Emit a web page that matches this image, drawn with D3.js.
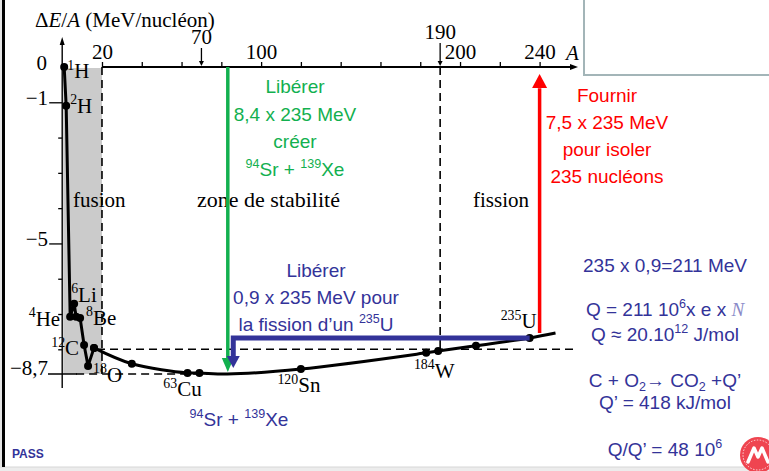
<!DOCTYPE html>
<html><head><meta charset="utf-8">
<script src="https://cdn.jsdelivr.net/npm/d3@7"></script>
<style>body{margin:0;background:#fff}svg{display:block}</style>
</head><body><svg id="c" width="769" height="471"></svg>
<script>
// ---------- data ----------
const lightA = [1, 2, 4, 6, 7, 9, 11, 13, 16];
const lightE = [0, -1.1, -7.08, -6.71, -7.08, -7.11, -7.88, -8.47, -7.96];
const heavyA = [16, 35, 63, 69, 83, 120, 183, 189, 208, 235, 248];
const heavyE = [-7.96, -8.41, -8.67, -8.67, -8.70, -8.56, -8.10, -8.05, -7.90, -7.68, -7.54];
const heavyDot = [1, 1, 1, 1, 0, 1, 1, 1, 1, 1, 0];
const xTicks = [20, 40, 60, 80, 100, 120, 140, 160, 180, 200, 220, 240];
const xTickLabels = [20, 100, 200, 240];
const yTicks = [-1, -2, -3, -4, -5, -6, -7, -8];
const yTickLabels = [0, -1, -5];
const markA = [70, 190];
const nuclideText = ["^{1}H", "^{2}H", "^{4}He", "^{6}Li", "^{8}Be", "^{12}C", "^{18}O", "^{63}Cu", "^{120}Sn", "^{184}W", "^{235}U"];
const nuclideA    = [1, 2, 4, 6, 9, 11, 13, 63, 120, 183, 235];
const nuclideE    = [0, -1.1, -7.08, -6.71, -7.11, -7.88, -8.47, -8.67, -8.56, -8.10, -7.68];
const zoneText = ["fusion", "zone de stabilité", "fission"];
const greenText = ["Libérer", "8,4 x 235 MeV", "créer", "^{94}Sr + ^{139}Xe"];
const blueText = ["Libérer", "0,9 x 235 MeV pour", "la fission d’un ^{235}U"];
const redText = ["Fournir", "7,5 x 235 MeV", "pour isoler", "235 nucléons"];
const rightText = ["235 x 0,9=211 MeV", "Q = 211 10^{6}x e x ~N", "Q ≈ 20.10^{12} J/mol", "C + O_{2}→ CO_{2} +Q’", "Q’ = 418 kJ/mol", "Q/Q’ = 48 10^{6}"];
const bottomText = "^{94}Sr + ^{139}Xe";
const stabE = -8.7, limitE = -8.0, fusionA = 20, fissionA = 190, uraniumA = 235, heliumA = 240, sepA = 83;

// ---------- setup ----------
const svg = d3.select("#c");
const SERIF = "'Liberation Serif','Times New Roman',serif";
const SANS = "'Liberation Sans',Arial,sans-serif";
const GREEN = "#12b04f", BLUE = "#333399", RED = "#ff0000";
const x = d3.scaleLinear().domain([0, 240]).range([62.2, 539.6]);
const y = d3.scaleLinear().domain([0, -8.7]).range([67, 374]);

function rich(g, px, py, str, size, opts = {}) {
  const t = g.append("text").attr("x", px).attr("y", py)
    .attr("font-size", size).attr("font-family", opts.font || SANS)
    .attr("fill", opts.fill || "#000").attr("text-anchor", opts.anchor || "start");
  const re = /(\^\{[^}]*\}|_\{[^}]*\}|~N)/g;
  const parts = str.split(re).filter(s => s !== "");
  let shift = 0;
  parts.forEach(p => {
    let kind = null, txt = p;
    if (p.startsWith("^{")) { kind = "sup"; txt = p.slice(2, -1); }
    else if (p.startsWith("_{")) { kind = "sub"; txt = p.slice(2, -1); }
    else if (p === "~N") { kind = "scr"; txt = "N"; }
    const target = kind === "sup" ? -0.4 * size : kind === "sub" ? 0.22 * size : 0;
    const ts = t.append("tspan").text(txt);
    if (target - shift !== 0) ts.attr("dy", target - shift);
    shift = target;
    if (kind === "sup" || kind === "sub") ts.attr("font-size", size * 0.66);
    if (kind === "scr") ts.attr("font-family", SERIF).attr("font-style", "italic").attr("fill", "#8a8ac8");
  });
  return t;
}
function head(g, tx, ty, dir, len, hw, color) {
  let pts;
  if (dir === "down") pts = [[tx, ty], [tx - hw, ty - len], [tx + hw, ty - len]];
  else if (dir === "up") pts = [[tx, ty], [tx - hw, ty + len], [tx + hw, ty + len]];
  else pts = [[tx, ty], [tx - len, ty - hw], [tx - len, ty + hw]];
  g.append("path").attr("d", d3.line()(pts) + "Z").attr("fill", color);
}

// ---------- frame ----------
svg.append("rect").attr("x", 0).attr("y", 0).attr("width", 769).attr("height", 471).attr("fill", "#fff");
svg.append("rect").attr("x", 0).attr("y", 467).attr("width", 769).attr("height", 4).attr("fill", "#ececec");
svg.append("line").attr("x1", 0).attr("x2", 769).attr("y1", 467).attr("y2", 467).attr("stroke", "#d6d6d6");
svg.append("rect").attr("x", 0).attr("y", 0).attr("width", 2).attr("height", 467).attr("fill", "#e4e4e4");
svg.append("rect").attr("x", 2).attr("y", 0).attr("width", 3).attr("height", 467).attr("fill", "#000");
svg.append("rect").attr("x", 584).attr("y", -4).attr("width", 200).attr("height", 79)
  .attr("fill", "none").attr("stroke", "#a3b5b8").attr("stroke-width", 2);

// ---------- shaded fusion zone ----------
svg.append("rect").attr("x", x(0) + 1).attr("y", y(0) + 1)
  .attr("width", x(fusionA) - x(0) - 1).attr("height", y(stabE) - y(0) - 1).attr("fill", "#cbcbcb");

// ---------- zone texts ----------
const zg = svg.append("g").attr("font-family", SERIF).attr("font-size", 21);
zg.append("text").attr("x", 73).attr("y", 207).text(zoneText[0]);
zg.append("text").attr("x", 197).attr("y", 207).attr("font-size", 22).text(zoneText[1]);
zg.append("text").attr("x", 473).attr("y", 207).text(zoneText[2]);

// ---------- dashed guides ----------
const dash = svg.append("g").attr("stroke", "#000").attr("stroke-width", 1.6).attr("stroke-dasharray", "8,5").attr("fill", "none");
dash.append("line").attr("x1", x(fusionA)).attr("x2", x(fusionA)).attr("y1", y(0)).attr("y2", y(stabE));
dash.append("line").attr("x1", x(fissionA)).attr("x2", x(fissionA)).attr("y1", y(0)).attr("y2", y(-8.05));
dash.append("line").attr("x1", x(17.5)).attr("x2", 574).attr("y1", y(limitE)).attr("y2", y(limitE));
dash.append("line").attr("x1", x(7)).attr("x2", x(sepA)).attr("y1", y(stabE)).attr("y2", y(stabE));

// ---------- x axis ----------
const gx = svg.append("g").attr("transform", `translate(0,${y(0)})`)
  .call(d3.axisTop(x).tickValues(xTicks).tickSize(5).tickPadding(3)
    .tickFormat(d => xTickLabels.includes(d) ? d : ""));
gx.select(".domain").remove();
gx.selectAll("line").attr("stroke-width", 1.3);
gx.selectAll("text").attr("font-family", SERIF).attr("font-size", 21);
svg.append("line").attr("x1", x(fusionA)).attr("x2", 572).attr("y1", y(0)).attr("y2", y(0))
  .attr("stroke", "#000").attr("stroke-width", 1.8);
head(svg, 578, y(0), "right", 8, 3, "#000");
svg.append("text").attr("x", 566).attr("y", 60).attr("font-family", SERIF).attr("font-style", "italic")
  .attr("font-size", 21).text("A");
markA.forEach((a, i) => {
  const top = i === 0 ? 48 : 43;
  svg.append("line").attr("x1", x(a)).attr("x2", x(a)).attr("y1", top).attr("y2", y(0) - 4)
    .attr("stroke", "#000").attr("stroke-width", 1.3);
  head(svg, x(a), y(0) - 1, "down", 5, 2.5, "#000");
  svg.append("text").attr("x", x(a)).attr("y", top - 4).attr("text-anchor", "middle")
    .attr("font-family", SERIF).attr("font-size", 21).text(a);
});

// ---------- y axis ----------
const gy = svg.append("g").attr("transform", `translate(${x(0)},0)`)
  .call(d3.axisLeft(y).tickValues(yTicks).tickSize(4).tickFormat(""));
gy.select(".domain").remove();
gy.selectAll(".tick line").attr("stroke-width", 1.3)
  .filter(d => yTickLabels.includes(d)).attr("x2", -13);
svg.append("line").attr("x1", x(0)).attr("x2", x(0)).attr("y1", 43).attr("y2", 388)
  .attr("stroke", "#000").attr("stroke-width", 1.4);
head(svg, x(0), 37, "up", 8, 2.5, "#000");
yTickLabels.forEach(v => {
  svg.append("text").attr("x", v === 0 ? 47 : 48).attr("y", y(v) + 3).attr("text-anchor", "end")
    .attr("font-family", SERIF).attr("font-size", 21).text(v === 0 ? "0" : "−" + Math.abs(v));
});
svg.append("text").attr("x", 48).attr("y", y(stabE) + 1).attr("text-anchor", "end")
  .attr("font-family", SERIF).attr("font-size", 21).text("−8,7");
svg.append("line").attr("x1", 48).attr("x2", 77).attr("y1", y(stabE)).attr("y2", y(stabE))
  .attr("stroke", "#000").attr("stroke-width", 1.5);
(function () {
  const t = svg.append("text").attr("x", 35).attr("y", 27).attr("font-family", SERIF).attr("font-size", 21);
  t.append("tspan").text("Δ");
  t.append("tspan").attr("font-style", "italic").text("E");
  t.append("tspan").text("/");
  t.append("tspan").attr("font-style", "italic").text("A");
  t.append("tspan").text(" (MeV/nucléon)");
})();

// ---------- curve ----------
const light = lightA.map((a, i) => [x(a), y(lightE[i])]);
const heavy = heavyA.map((a, i) => [x(a), y(heavyE[i])]);
svg.append("path").attr("d", d3.line().curve(d3.curveLinear)(light))
  .attr("fill", "none").attr("stroke", "#000").attr("stroke-width", 3).attr("stroke-linejoin", "round");
svg.append("path").attr("d", d3.line().curve(d3.curveCatmullRom.alpha(0.5))(heavy))
  .attr("fill", "none").attr("stroke", "#000").attr("stroke-width", 3);
svg.append("g").selectAll("circle").data(light.concat(heavy.filter((p, i) => heavyDot[i])))
  .join("circle").attr("cx", d => d[0]).attr("cy", d => d[1]).attr("r", 4).attr("fill", "#000");

// ---------- nuclide labels ----------
const labOff = [
  { dx: 3, dy: 11, a: "start" }, { dx: 4, dy: 7, a: "start" }, { dx: -10, dy: 9, a: "end" },
  { dx: -3, dy: -2, a: "start" }, { dx: 6, dy: 7, a: "start" }, { dx: -5, dy: 10, a: "end" },
  { dx: 5, dy: 16, a: "start" }, { dx: -5, dy: 23, a: "middle" }, { dx: -2, dy: 23, a: "middle" },
  { dx: 8, dy: 25, a: "middle" }, { dx: 7, dy: -10, a: "end" }
];
nuclideText.forEach((s, i) => {
  const o = labOff[i];
  rich(svg, x(nuclideA[i]) + o.dx, y(nuclideE[i]) + o.dy, s, 21, { font: SERIF, anchor: o.a });
});

// ---------- arrows ----------
svg.append("line").attr("x1", x(sepA) + 0.5).attr("x2", x(sepA) + 0.5).attr("y1", y(0)).attr("y2", y(-8.3))
  .attr("stroke", GREEN).attr("stroke-width", 3.5);
head(svg, x(sepA) + 0.5, y(-8.64), "down", 14, 6, GREEN);
const bx = x(86);
svg.append("path").attr("d", d3.line()([[x(uraniumA), y(-7.68)], [bx, y(-7.68)], [bx, y(-8.25)]]))
  .attr("fill", "none").attr("stroke", BLUE).attr("stroke-width", 5);
head(svg, bx, y(-8.53), "down", 12, 6.5, BLUE);
svg.append("line").attr("x1", x(heliumA)).attr("x2", x(heliumA)).attr("y1", y(-7.54)).attr("y2", y(-0.6))
  .attr("stroke", RED).attr("stroke-width", 3.5);
head(svg, x(heliumA), y(-0.2), "up", 14, 7.5, RED);

// ---------- annotation texts ----------
greenText.forEach((s, i) => rich(svg, 295, 93 + i * 27.6, s, 19, { fill: GREEN, anchor: "middle" }));
blueText.forEach((s, i) => rich(svg, 316, 277 + i * 27, s, 19, { fill: BLUE, anchor: "middle" }));
redText.forEach((s, i) => rich(svg, 607, 102 + i * 27, s, 19, { fill: RED, anchor: "middle" }));
const rightY = [272, 316, 341, 387, 409, 456];
rightText.forEach((s, i) => rich(svg, 665, rightY[i], s, 19, { fill: BLUE, anchor: "middle" }));
rich(svg, 239, 426, bottomText, 19, { fill: BLUE, anchor: "middle" });
svg.append("text").attr("x", 12).attr("y", 458).attr("font-family", SANS).attr("font-weight", "bold")
  .attr("font-size", 12).attr("fill", BLUE).text("PASS");

// ---------- logo ----------
const logo = svg.append("g").attr("transform", "translate(758,455)");
logo.append("circle").attr("r", 18).attr("fill", "#ef4550");
logo.append("circle").attr("r", 15).attr("fill", "none").attr("stroke", "#fff").attr("stroke-width", 0.8).attr("stroke-dasharray", "1.5,1.5");
logo.append("path").attr("d", "M-10,7 L-4,-7 L0,2 L4,-7 L10,7").attr("fill", "none")
  .attr("stroke", "#fff").attr("stroke-width", 3.5).attr("stroke-linejoin", "round").attr("stroke-linecap", "round");
</script></body></html>
